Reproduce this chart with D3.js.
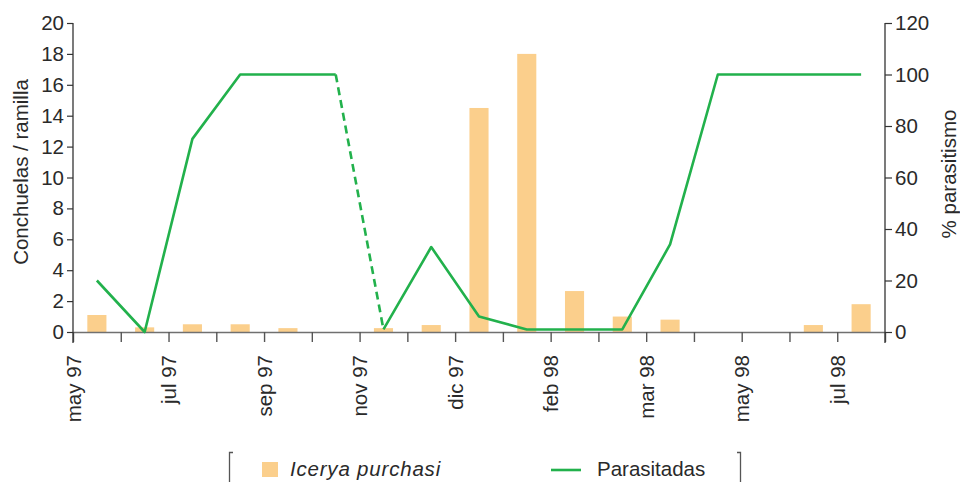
<!DOCTYPE html>
<html>
<head>
<meta charset="utf-8">
<script src="https://cdn.jsdelivr.net/npm/d3@7"></script>
<style>
  html, body { margin: 0; padding: 0; background: #fff; }
  svg { display: block; }
  text { font-family: "Liberation Sans", Arial, Helvetica, sans-serif; fill: #2a2a2a; }
</style>
</head>
<body>
<svg id="chart" width="960" height="482"></svg>
<script>
// ---- data ----
const samples = d3.range(17).map(i => "s" + i);
const tickLabels = ["may 97", "", "jul 97", "", "sep 97", "", "nov 97", "", "dic 97", "",
                    "feb 98", "", "mar 98", "", "may 98", "", "jul 98", ""];
const icerya = [1.1, 0.3, 0.5, 0.5, 0.25, 0, 0.25, 0.45, 14.5, 18, 2.65, 1.0, 0.8, 0, 0, 0.45, 1.8];
const parasitadas = [20, 0, 75, 100, 100, 100, 1, 33, 6, 1, 1, 1, 34, 100, 100, 100, 100];
const dashedFrom = [5]; // segment from sample 5 to 6 drawn dashed
const leftTicks = d3.range(0, 21, 2);
const rightTicks = d3.range(0, 121, 20);
const seriesNames = ["Icerya purchasi", "Parasitadas"];
const barColor = "#fbcf8c";
const lineColor = "#22b14c";

// ---- layout ----
const svg = d3.select("#chart");
const L = 73, R = 885, T = 23, B = 332;

const xBand = d3.scaleBand().domain(samples).range([L, R]).padding(0);
const xEdge = d3.scaleLinear().domain([0, samples.length]).range([L, R]);
const yL = d3.scaleLinear().domain([0, 20]).range([B, T]);
const yR = d3.scaleLinear().domain([0, 120]).range([B, T]);

const bw = xBand.bandwidth();
const barW = bw * 0.4;

// bars
svg.append("g").selectAll("rect").data(icerya).join("rect")
  .attr("x", (d, i) => xBand(samples[i]) + (bw - barW) / 2)
  .attr("width", barW)
  .attr("y", d => yL(d))
  .attr("height", d => B - yL(d))
  .attr("fill", barColor);

// x axis
const xAxis = svg.append("g").attr("transform", `translate(0,${B})`)
  .call(d3.axisBottom(xEdge).tickValues(d3.range(samples.length + 1))
    .tickFormat(i => tickLabels[i]).tickSize(10).tickSizeOuter(0));
xAxis.select(".domain").attr("stroke", "#707070").attr("stroke-width", 1.6);
xAxis.selectAll(".tick line").attr("stroke", "#555").attr("stroke-width", 1.4);
xAxis.selectAll(".tick text")
  .attr("font-size", "20.5px").attr("fill", "#2a2a2a")
  .attr("transform", "rotate(-90)")
  .attr("text-anchor", "end")
  .attr("x", -23).attr("y", 0).attr("dy", "0.35em");

// left axis
const yAxisL = svg.append("g").attr("transform", `translate(${L},0)`)
  .call(d3.axisLeft(yL).tickValues(leftTicks).tickSize(6).tickPadding(3).tickSizeOuter(0));
yAxisL.select(".domain").remove();
yAxisL.append("line").attr("x1", 0).attr("x2", 0).attr("y1", T).attr("y2", B + 11)
  .attr("stroke", "#333").attr("stroke-width", 1.3);
yAxisL.selectAll(".tick line").attr("stroke", "#333").attr("stroke-width", 1.2);
yAxisL.selectAll(".tick text").attr("font-size", "20.5px").attr("fill", "#2a2a2a");

// right axis
const yAxisR = svg.append("g").attr("transform", `translate(${R},0)`)
  .call(d3.axisRight(yR).tickValues(rightTicks).tickSize(7).tickPadding(3).tickSizeOuter(0));
yAxisR.select(".domain").remove();
yAxisR.append("line").attr("x1", 0).attr("x2", 0).attr("y1", T).attr("y2", B + 11)
  .attr("stroke", "#333").attr("stroke-width", 1.3);
yAxisR.selectAll(".tick line").attr("stroke", "#333").attr("stroke-width", 1.2);
yAxisR.selectAll(".tick text").attr("font-size", "20.5px").attr("fill", "#2a2a2a");

// axis titles
svg.append("text").attr("transform", "translate(28,172) rotate(-90)")
  .attr("text-anchor", "middle").attr("font-size", "20.5px").text("Conchuelas / ramilla");
svg.append("text").attr("transform", "translate(956,174) rotate(-90)")
  .attr("text-anchor", "middle").attr("font-size", "20.5px").text("% parasitismo");

// line
const pts = parasitadas.map((v, i) => ({ i, x: xBand(samples[i]) + bw / 2, y: yR(v) }));
const line = d3.line().x(d => d.x).y(d => d.y);
const segs = [];
let cur = [pts[0]];
for (let i = 1; i < pts.length; i++) {
  if (dashedFrom.includes(i - 1)) {
    segs.push({ pts: cur, dashed: false });
    segs.push({ pts: [pts[i - 1], pts[i]], dashed: true });
    cur = [pts[i]];
  } else {
    cur.push(pts[i]);
  }
}
segs.push({ pts: cur, dashed: false });
svg.append("g").selectAll("path").data(segs).join("path")
  .attr("d", d => line(d.pts))
  .attr("fill", "none")
  .attr("stroke", lineColor)
  .attr("stroke-width", 2.6)
  .attr("stroke-linejoin", "round")
  .attr("stroke-dasharray", d => d.dashed ? "8,5" : null);

// legend
const lg = svg.append("g");
lg.append("path").attr("d", "M233,452.5 H229.5 V482").attr("fill", "none")
  .attr("stroke", "#555").attr("stroke-width", 1.3);
lg.append("path").attr("d", "M737,452.5 H740.5 V482").attr("fill", "none")
  .attr("stroke", "#555").attr("stroke-width", 1.3);
lg.append("rect").attr("x", 262).attr("y", 462).attr("width", 16).attr("height", 15).attr("fill", barColor);
lg.append("text").attr("x", 290).attr("y", 476).attr("font-size", "20.5px")
  .attr("font-style", "italic").attr("letter-spacing", "0.8px").text(seriesNames[0]);
lg.append("line").attr("x1", 551).attr("x2", 581).attr("y1", 470).attr("y2", 470)
  .attr("stroke", lineColor).attr("stroke-width", 2.6);
lg.append("text").attr("x", 597).attr("y", 476).attr("font-size", "20.5px").text(seriesNames[1]);
</script>
</body>
</html>
